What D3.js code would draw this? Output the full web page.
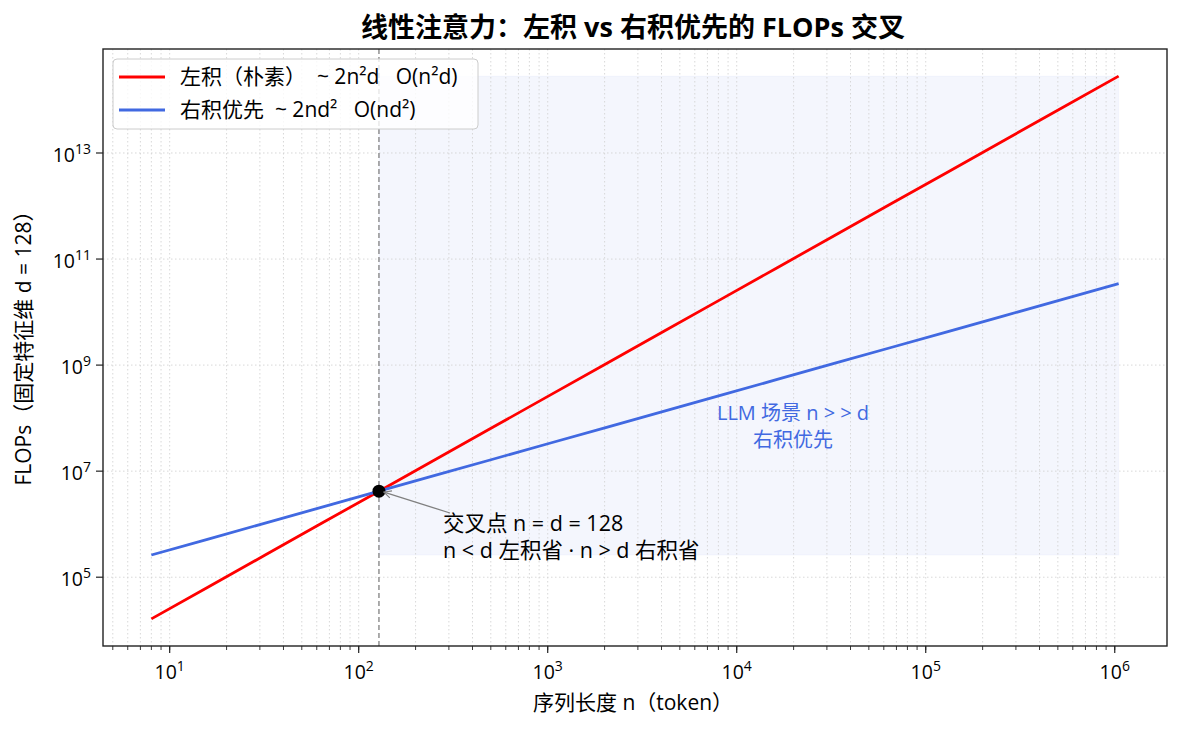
<!DOCTYPE html>
<html>
<head>
<meta charset="utf-8">
<script src="https://d3js.org/d3.v7.min.js"></script>
<style>
  body { margin: 0; background: #fff; }
  svg text { font-family: "Open Sans", "Noto Sans CJK SC", sans-serif; }
</style>
</head>
<body>
<svg width="1182" height="730"></svg>
<script>
// sequence length n (token), d = 128
const nValues = [8, 16, 32, 64, 128, 256, 512, 1024, 2048, 4096, 8192, 16384,
  32768, 65536, 131072, 262144, 524288, 1048576];
// left product ~ 2n^2 d
const leftFlops = [16384, 65536, 262144, 1048576, 4194304, 16777216, 67108864,
  268435456, 1073741824, 4294967296, 17179869184, 68719476736, 274877906944,
  1099511627776, 4398046511104, 17592186044416, 70368744177664, 281474976710656];
// right product first ~ 2n d^2
const rightFlops = [262144, 524288, 1048576, 2097152, 4194304, 8388608, 16777216,
  33554432, 67108864, 134217728, 268435456, 536870912, 1073741824, 2147483648,
  4294967296, 8589934592, 17179869184, 34359738368];
const crossN = 128;
const crossFlops = 4194304;
const xTickExp = [1, 2, 3, 4, 5, 6];
const yTickExp = [5, 7, 9, 11, 13];

const FS = 21;     // labels / legend / annotations
const TFS = 19.5;  // tick labels
const svg = d3.select('svg');
const m = {left: 103, right: 1167, top: 49, bottom: 646};

// matplotlib-like 5% margins in log space
const lx = d3.extent(nValues).map(Math.log10);
const ly = [Math.log10(d3.min(leftFlops)), Math.log10(d3.max(leftFlops))];
const px = (lx[1] - lx[0]) * 0.05, py = (ly[1] - ly[0]) * 0.05;

const x = d3.scaleLog().domain([10 ** (lx[0] - px), 10 ** (lx[1] + px)]).range([m.left, m.right]);
const y = d3.scaleLog().domain([10 ** (ly[0] - py), 10 ** (ly[1] + py)]).range([m.bottom, m.top]);

// shaded region n > d
svg.append('rect')
  .attr('x', x(crossN)).attr('y', y(d3.max(leftFlops)))
  .attr('width', x(d3.max(nValues)) - x(crossN))
  .attr('height', y(d3.min(rightFlops)) - y(d3.max(leftFlops)))
  .attr('fill', 'rgba(65,105,225,0.06)')
  .attr('stroke', 'rgba(65,105,225,0.04)');

// grid
const xMinor = [];
for (let e = 0; e <= 6; e++) for (let k = 1; k <= 9; k++) {
  const v = k * 10 ** e;
  if (v >= x.domain()[0] && v <= x.domain()[1]) xMinor.push(v);
}
const grid = svg.append('g').attr('stroke', '#d4d4d4').attr('stroke-width', 0.9)
  .attr('stroke-dasharray', '1.5,2.5');
grid.selectAll('.gx').data(xMinor).enter().append('line')
  .attr('x1', d => x(d)).attr('x2', d => x(d)).attr('y1', m.top).attr('y2', m.bottom);
grid.selectAll('.gy').data(yTickExp).enter().append('line')
  .attr('x1', m.left).attr('x2', m.right).attr('y1', d => y(10 ** d)).attr('y2', d => y(10 ** d));

// crossover vline
svg.append('line')
  .attr('x1', x(crossN)).attr('x2', x(crossN)).attr('y1', m.top).attr('y2', m.bottom)
  .attr('stroke', '#808080').attr('stroke-width', 1.3).attr('stroke-dasharray', '5,3');

const line = vals => d3.line().x((d, i) => x(nValues[i])).y(d => y(d))(vals);
svg.append('path').attr('d', line(leftFlops)).attr('fill', 'none')
  .attr('stroke', '#ff0000').attr('stroke-width', 2.8);
svg.append('path').attr('d', line(rightFlops)).attr('fill', 'none')
  .attr('stroke', '#4169e1').attr('stroke-width', 2.8);

svg.append('circle').attr('cx', x(crossN)).attr('cy', y(crossFlops)).attr('r', 6.5).attr('fill', '#000');

// annotation
const tx = 443, ty = 531;
svg.append('defs').append('marker').attr('id', 'arr').attr('viewBox', '0 0 10 10')
  .attr('refX', 9).attr('refY', 5).attr('markerWidth', 7).attr('markerHeight', 7)
  .attr('orient', 'auto-start-reverse')
  .append('path').attr('d', 'M1,1 L9,5 L1,9').attr('fill', 'none').attr('stroke', '#808080').attr('stroke-width', 1.3);
svg.append('line').attr('x1', 450).attr('y1', 513)
  .attr('x2', x(crossN) + 5).attr('y2', y(crossFlops) + 1)
  .attr('stroke', '#808080').attr('stroke-width', 1.3).attr('marker-end', 'url(#arr)');
svg.append('text').attr('x', tx).attr('y', ty).attr('font-size', 21.5).attr('fill', '#000')
  .text('交叉点 n = d = 128');
svg.append('text').attr('x', tx).attr('y', ty + 27).attr('font-size', 21.5).attr('fill', '#000')
  .text('n < d 左积省 · n > d 右积省');

// LLM label
const llm1 = svg.append('text').attr('text-anchor', 'middle').attr('font-size', 20).attr('fill', '#4169e1')
  .attr('x', 793).attr('y', 420);
llm1.append('tspan').text('LLM 场景 n >');
llm1.append('tspan').attr('dx', 5).text('> d');
svg.append('text').attr('text-anchor', 'middle').attr('font-size', 20).attr('fill', '#4169e1')
  .attr('x', 793).attr('y', 447).text('右积优先');

// axes frame
svg.append('rect').attr('x', m.left).attr('y', m.top)
  .attr('width', m.right - m.left).attr('height', m.bottom - m.top)
  .attr('fill', 'none').attr('stroke', '#222').attr('stroke-width', 1.4);

// x ticks
const ax = svg.append('g').attr('stroke', '#222');
ax.selectAll('.mn').data(xMinor).enter().append('line')
  .attr('x1', d => x(d)).attr('x2', d => x(d)).attr('y1', m.bottom).attr('y2', m.bottom + 4).attr('stroke-width', 0.9);
ax.selectAll('.mj').data(xTickExp).enter().append('line')
  .attr('x1', d => x(10 ** d)).attr('x2', d => x(10 ** d)).attr('y1', m.bottom).attr('y2', m.bottom + 7).attr('stroke-width', 1.2);
const xl = svg.selectAll('.xl').data(xTickExp).enter().append('text')
  .attr('x', d => x(10 ** d)).attr('y', m.bottom + 33).attr('text-anchor', 'middle')
  .attr('font-size', TFS).attr('fill', '#000');
xl.append('tspan').text('10');
xl.append('tspan').attr('dy', -8).attr('font-size', 14).text(d => d);

// y ticks
svg.append('g').attr('stroke', '#222').selectAll('line').data(yTickExp).enter().append('line')
  .attr('x1', m.left - 7).attr('x2', m.left).attr('y1', d => y(10 ** d)).attr('y2', d => y(10 ** d)).attr('stroke-width', 1.2);
const yl = svg.selectAll('.yl').data(yTickExp).enter().append('text')
  .attr('x', m.left - 12).attr('y', d => y(10 ** d) + 9).attr('text-anchor', 'end')
  .attr('font-size', TFS).attr('fill', '#000');
yl.append('tspan').text('10');
yl.append('tspan').attr('dy', -8).attr('font-size', 14).text(d => d);

// labels
svg.append('text').attr('x', 633).attr('y', 710).attr('text-anchor', 'middle')
  .attr('font-size', FS).text('序列长度 n（token）');
svg.append('text').attr('transform', 'translate(31,343) rotate(-90)')
  .attr('text-anchor', 'middle').attr('font-size', FS).text('FLOPs（固定特征维 d = 128）');
svg.append('text').attr('x', 633).attr('y', 37).attr('text-anchor', 'middle')
  .attr('font-size', 27).attr('font-weight', 'bold').text('线性注意力：左积 vs 右积优先的 FLOPs 交叉');

// legend
const lg = svg.append('g').attr('transform', 'translate(113,59)');
lg.append('rect').attr('width', 365).attr('height', 70).attr('rx', 4)
  .attr('fill', 'rgba(255,255,255,0.8)').attr('stroke', '#cccccc');
const legendItems = [
  {label: '左积（朴素）  ~ 2n²d   O(n²d)', color: '#ff0000'},
  {label: '右积优先  ~ 2nd²   O(nd²)', color: '#4169e1'}
];
legendItems.forEach((it, i) => {
  const yy = 18 + i * 33;
  lg.append('line').attr('x1', 6).attr('x2', 52).attr('y1', yy).attr('y2', yy)
    .attr('stroke', it.color).attr('stroke-width', 2.8);
  lg.append('text').attr('x', 67).attr('y', yy + 7).attr('font-size', FS)
    .attr('xml:space', 'preserve').style('white-space', 'pre').text(it.label);
});
</script>
</body>
</html>
